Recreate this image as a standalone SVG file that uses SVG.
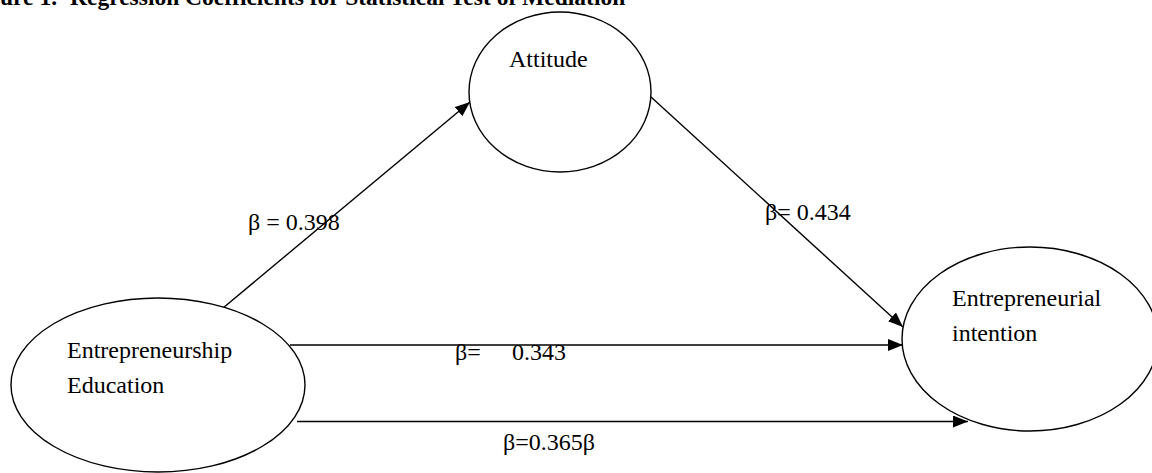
<svg xmlns="http://www.w3.org/2000/svg" width="1152" height="473" viewBox="0 0 1152 473">
  <style>
    .node { fill: #ffffff; stroke: #000000; stroke-width: 1.4; }
    .lbl { font-family: "Liberation Serif", "Times New Roman", serif; font-size: 24px; fill: #000000; }
    .title { font-family: "Liberation Serif", "Times New Roman", serif; font-size: 23.5px; font-weight: bold; fill: #000000; }
    .edge { stroke: #000000; stroke-width: 1.4; fill: none; marker-end: url(#arrow); }
  </style>
  <defs>
    <marker id="arrow" markerUnits="userSpaceOnUse" markerWidth="15" markerHeight="12" refX="15" refY="6" orient="auto">
      <path d="M0,0 L15,6 L0,12 z" fill="#000000"/>
    </marker>
  </defs>
  <rect x="0" y="0" width="1152" height="473" fill="#ffffff"/>
  <text class="title" y="5"><tspan x="0">ure 1.</tspan><tspan x="70">Regression Coefficients for Statistical Test of Mediation</tspan></text>

  <g id="connectors">
    <line class="edge" x1="223" y1="308" x2="470" y2="102"/>
    <line class="edge" x1="651" y1="97" x2="903" y2="327"/>
    <line class="edge" x1="290" y1="345" x2="903" y2="345"/>
    <line class="edge" x1="297" y1="421.5" x2="968" y2="421.5"/>
    <text class="lbl" x="248" y="230">β = 0.398</text>
    <text class="lbl" x="765" y="220">β= 0.434</text>
    <text class="lbl" y="360"><tspan x="455">β=</tspan><tspan x="512">0.343</tspan></text>
    <text class="lbl" x="503" y="450">β=0.365β</text>
  </g>

  <g id="attitude">
    <ellipse class="node" cx="560" cy="92" rx="91" ry="80"/>
    <text class="lbl" x="509" y="67">Attitude</text>
  </g>

  <g id="entrepreneurship-education">
    <ellipse class="node" cx="158" cy="385" rx="147" ry="87"/>
    <text class="lbl" x="67" y="358">Entrepreneurship</text>
    <text class="lbl" x="67" y="393">Education</text>
  </g>

  <g id="entrepreneurial-intention">
    <ellipse class="node" cx="1030" cy="339" rx="128" ry="92"/>
    <text class="lbl" x="952" y="306">Entrepreneurial</text>
    <text class="lbl" x="952" y="341">intention</text>
  </g>
</svg>
